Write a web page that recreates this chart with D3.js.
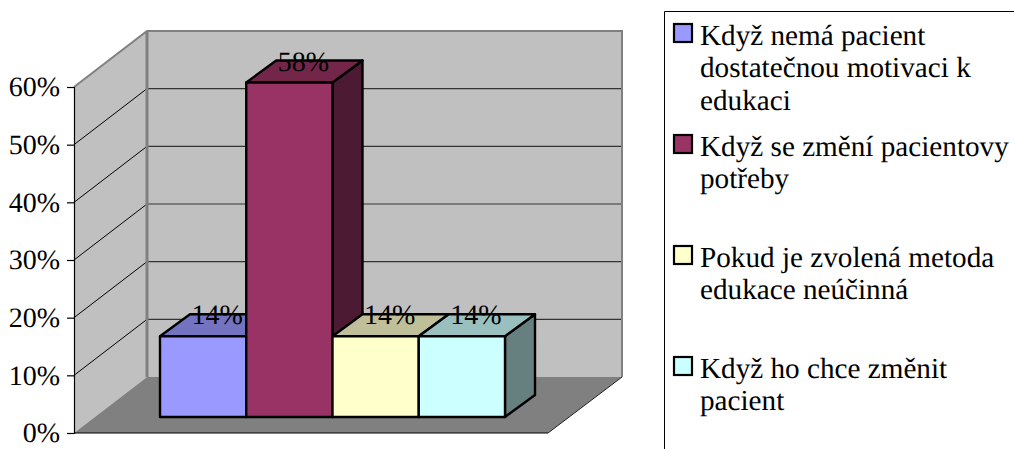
<!DOCTYPE html>
<html><head><meta charset="utf-8">
<script src="https://cdn.jsdelivr.net/npm/d3@7"></script>
<style>html,body{margin:0;padding:0;background:#fff}svg{display:block}text{font-family:"Liberation Serif",serif;fill:#000;text-rendering:geometricPrecision}</style>
</head><body><svg id="c" width="1014" height="449"></svg>
<script>
const categories = ["A","B","C","D"];
const values = [14,58,14,14];
const valueLabels = ["14%","58%","14%","14%"];
const ticks = [0,10,20,30,40,50,60];
const colors = ["#9999ff","#993366","#ffffcc","#ccffff"];
const topColors = ["#7373bf","#732649","#bfbf99","#99bfbf"];
const sideColors = ["#4d4d80","#4d1a33","#808066","#668080"];
const legendLines = [
  ["Když nemá pacient","dostatečnou motivaci k","edukaci"],
  ["Když se změní pacientovy","potřeby"],
  ["Pokud je zvolená metoda","edukace neúčinná"],
  ["Když ho chce změnit","pacient"]
];
const legendTops = [24,135,246,357];

const svg = d3.select("#c");
const y = d3.scaleLinear().domain([0,60]).range([433,87]);
const x = d3.scaleBand().domain(categories).range([160,505]).padding(0);
const dx = 73, dy = -56;              // wall depth offset
const poly = (pts,fill,stroke,sw) => svg.append("polygon")
  .attr("points",pts.map(p=>p.join(",")).join(" "))
  .attr("fill",fill).attr("stroke",stroke||"none").attr("stroke-width",sw||0).attr("stroke-linejoin","round");
const line = (x1,y1,x2,y2,s,w) => svg.append("line").attr("x1",x1).attr("y1",y1).attr("x2",x2).attr("y2",y2).attr("stroke",s).attr("stroke-width",w);

const xL = 74, xR = 548;
// walls
poly([[xL,y(60)],[xL+dx,y(60)+dy],[xL+dx,y(0)+dy],[xL,y(0)]],"#c0c0c0");
poly([[xL+dx,y(60)+dy],[xR+dx+1,y(60)+dy],[xR+dx+1,y(0)+dy],[xL+dx,y(0)+dy]],"#c0c0c0");
// gridlines
ticks.filter(t=>t>0&&t<60).forEach(t=>{
  line(xL,y(t),xL+dx,y(t)+dy,"#000",1);
  line(xL+dx,y(t)+dy,xR+dx,y(t)+dy,"#333",1.2);
});
// wall frame
svg.append("path").attr("fill","none").attr("stroke","#808080").attr("stroke-width",2)
  .attr("d",`M${xL},${y(60)}L${xL+dx},${y(60)+dy}H${xR+dx+1}V${y(0)+dy}`);
line(xL+dx,y(60)+dy,xL+dx,y(0)+dy,"#808080",3);
// floor
poly([[xL,y(0)],[xR,y(0)],[xR+dx+1,y(0)+dy],[xL+dx,y(0)+dy]],"#808080");
line(xL,y(0),xR,y(0),"#000",1);
line(xR,y(0),xR+dx+1,y(0)+dy,"#222",1);
// axis
const axis = d3.axisLeft(y).tickValues(ticks).tickSize(7).tickPadding(7).tickFormat(d=>d+"%");
const ga = svg.append("g").attr("transform",`translate(${xL},0)`).call(axis);
ga.selectAll("path").attr("stroke","#000").attr("stroke-width",1.2);
ga.selectAll("line").attr("stroke","#000").attr("stroke-width",1.2);
ga.selectAll("text").style("font-family",'"Liberation Serif",serif').style("font-size","28px").attr("fill","#000");

// bars
const base = 417, bx = 30, by = -22, unit = y(0)-y(1);
categories.forEach((c,i)=>{
  const x0=x(c), x1=x0+x.bandwidth(), t=base-values[i]*unit;
  poly([[x1,t],[x1+bx,t+by],[x1+bx,base+by],[x1,base]],sideColors[i],"#000",2.4);
  poly([[x0,t],[x0+bx,t+by],[x1+bx,t+by],[x1,t]],topColors[i],"#000",2.4);
  poly([[x0,t],[x1,t],[x1,base],[x0,base]],colors[i],"#000",2.4);
});
categories.forEach((c,i)=>{
  const t=base-values[i]*unit;
  svg.append("text").attr("x",x(c)+x.bandwidth()/2+14).attr("y",t+by+10)
    .attr("text-anchor","middle").style("font-size","28px").text(valueLabels[i]);
});

// legend box
svg.append("path").attr("fill","none").attr("stroke","#000").attr("stroke-width",1).attr("d","M664.5,449V11.5H1014");
legendLines.forEach((ls,i)=>{
  svg.append("rect").attr("x",674).attr("y",legendTops[i]).attr("width",18).attr("height",18)
    .attr("fill",colors[i]).attr("stroke","#000").attr("stroke-width",2.2);
  ls.forEach((s,j)=>{
    svg.append("text").attr("x",700).attr("y",legendTops[i]+20.5+j*32.7).style("font-size","29.2px").text(s);
  });
});
</script></body></html>
